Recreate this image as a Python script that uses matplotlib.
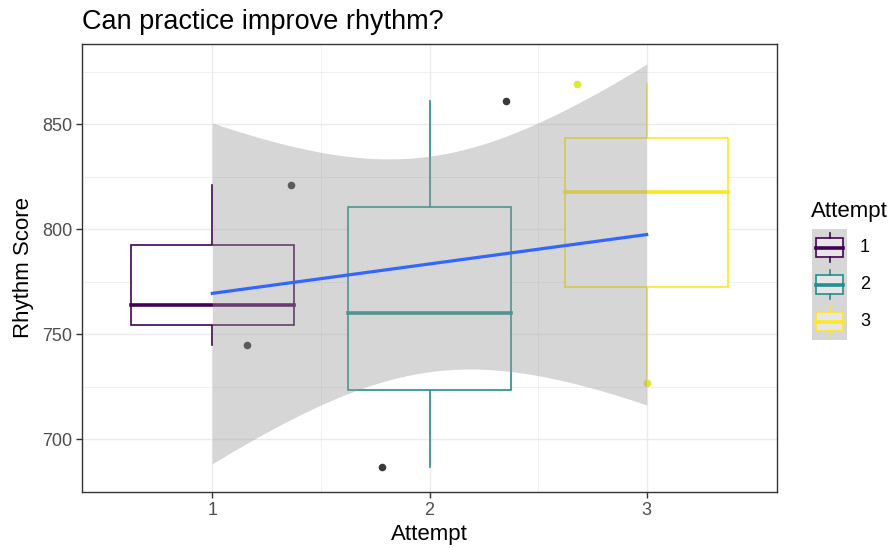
import numpy as np
import matplotlib.pyplot as plt
from matplotlib.patches import Rectangle

plt.rcParams['font.family'] = ['Liberation Sans', 'DejaVu Sans']

# ---------- Data ----------
attempts = [1, 2, 3]
scores_1 = [745, 764, 821]
scores_2 = [687, 760, 861]
scores_3 = [727, 818, 869]
# horizontal jitter of the raw points (as drawn in the source)
jitter_1 = [0.16, 0.0, 0.36]
jitter_2 = [-0.22, 0.0, 0.35]
jitter_3 = [0.0, 0.0, -0.32]

box_colors = ['#440154', '#21908C', '#FDE725']
point_colors = ['#333333', '#3a3a3a', '#dde63c']
y_ticks = [700, 750, 800, 850]
t_crit = 2.3646  # t(0.975, df=7)

groups = [scores_1, scores_2, scores_3]
jitters = [jitter_1, jitter_2, jitter_3]

# ---------- Linear fit with 95% CI ----------
xs = np.concatenate([[a] * len(g) for a, g in zip(attempts, groups)]).astype(float)
ys = np.concatenate(groups).astype(float)
slope, intercept = np.polyfit(xs, ys, 1)
n = len(xs)
resid = ys - (slope * xs + intercept)
s = np.sqrt(np.sum(resid ** 2) / (n - 2))
sxx = np.sum((xs - xs.mean()) ** 2)
xg = np.linspace(xs.min(), xs.max(), 80)
fit = slope * xg + intercept
hw = t_crit * s * np.sqrt(1 / n + (xg - xs.mean()) ** 2 / sxx)

# ---------- Plot ----------
fig = plt.figure(figsize=(8.94, 5.48), dpi=100)
ax = fig.add_axes([82 / 894, 1 - 492 / 548, 695 / 894, 448 / 548])

# raw points
for a, g, jit, pc in zip(attempts, groups, jitters, point_colors):
    ax.scatter(np.array(jit) + a, g, s=30, color=pc, zorder=2, linewidths=0)

# boxplots
bw = 0.75
for a, g, c in zip(attempts, groups, box_colors):
    q1, med, q3 = np.percentile(g, [25, 50, 75])
    iqr = q3 - q1
    lo = min(v for v in g if v >= q1 - 1.5 * iqr)
    hi = max(v for v in g if v <= q3 + 1.5 * iqr)
    ax.plot([a, a], [q3, hi], color=c, lw=1.2, zorder=3)
    ax.plot([a, a], [lo, q1], color=c, lw=1.2, zorder=3)
    ax.add_patch(Rectangle((a - bw / 2, q1), bw, q3 - q1, facecolor='white',
                           edgecolor=c, lw=1.2, zorder=3))
    ax.plot([a - bw / 2, a + bw / 2], [med, med], color=c, lw=2.6, zorder=3.5)

# smooth
ax.fill_between(xg, fit - hw, fit + hw, color='#999999', alpha=0.4, lw=0, zorder=4)
ax.plot(xg, fit, color='#3366FF', lw=2.3, zorder=5)

# scales
ymin = min(ys.min(), (fit - hw).min())
ymax = max(ys.max(), (fit + hw).max())
pad = 0.05 * (ymax - ymin)
ax.set_ylim(ymin - pad, ymax + pad)
ax.set_xlim(0.4, 3.6)
ax.set_xticks(attempts)
ax.set_xticklabels([str(a) for a in attempts])
ax.set_yticks(y_ticks)
ax.set_xticks([1.5, 2.5], minor=True)
ax.set_yticks([675, 725, 775, 825, 875], minor=True)
ax.grid(True, which='major', color='#ebebeb', lw=1.0, zorder=0)
ax.grid(True, which='minor', color='#ebebeb', lw=0.5, zorder=0)
ax.set_axisbelow(True)
ax.tick_params(which='major', length=4, width=1, color='#333333',
               labelsize=13, labelcolor='#4d4d4d', pad=3)
ax.tick_params(which='minor', length=0)
for sp in ax.spines.values():
    sp.set_color('#333333')
    sp.set_linewidth(1.0)

ax.set_xlabel('Attempt', fontsize=16, labelpad=4)
ax.set_ylabel('Rhythm Score', fontsize=16, labelpad=6)
fig.text(82 / 894, 1 - 22 / 548, 'Can practice improve rhythm?', fontsize=19.5,
         ha='left', va='center')

# ---------- Legend (drawn by hand, ggplot style) ----------
lax = fig.add_axes([0, 0, 1, 1])
lax.set_xlim(0, 894)
lax.set_ylim(548, 0)
lax.axis('off')
lax.text(811, 211, 'Attempt', fontsize=16, ha='left', va='center')
kx, kw, kh, ky0 = 812, 35, 37, 229
for i, (a, c) in enumerate(zip(attempts, box_colors)):
    ky = ky0 + i * kh
    lax.add_patch(Rectangle((kx, ky), kw, kh, facecolor='#d6d6d6', lw=0))
    cx = kx + kw / 2
    lax.plot([cx, cx], [ky + 0.1 * kh, ky + 0.25 * kh], color=c, lw=1.2)
    lax.plot([cx, cx], [ky + 0.75 * kh, ky + 0.9 * kh], color=c, lw=1.2)
    lax.add_patch(Rectangle((kx + 0.12 * kw, ky + 0.25 * kh), 0.76 * kw, 0.5 * kh,
                            facecolor='#e6e6e6', edgecolor=c, lw=1.2))
    lax.plot([kx + 0.12 * kw, kx + 0.88 * kw], [ky + kh / 2, ky + kh / 2], color=c, lw=2.6)
    lax.text(860, ky + kh / 2, str(a), fontsize=13, ha='left', va='center')

fig.savefig('out.png', dpi=100)
